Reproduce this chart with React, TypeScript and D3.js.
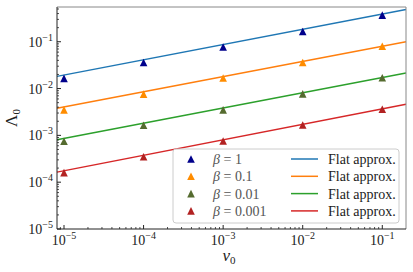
import React from "react";
import * as d3 from "d3";

// data
const v0Points = [1e-5, 1e-4, 1e-3, 1e-2, 1e-1];
const betaLabels = ["1", "0.1", "0.01", "0.001"];
const lambdaBeta1 = [0.0165, 0.036, 0.077, 0.166, 0.37];
const lambdaBeta01 = [0.0035, 0.0076, 0.0168, 0.036, 0.08];
const lambdaBeta001 = [0.00075, 0.00164, 0.0035, 0.0077, 0.017];
const lambdaBeta0001 = [0.00016, 0.00035, 0.00076, 0.00166, 0.0036];
// flat approximation lines, sampled at the plot's left and right edges
const flatV0 = [10 ** -5.088, 10 ** -0.702];
const flatBeta1 = [0.0182, 0.49];
const flatBeta01 = [0.0038, 0.1];
const flatBeta001 = [0.00081, 0.0216];
const flatBeta0001 = [0.000164, 0.0046];
const xTicks = [1e-5, 1e-4, 1e-3, 1e-2, 1e-1];
const yTicks = [1e-5, 1e-4, 1e-3, 1e-2, 1e-1];

const markerColors = ["#00008b", "#ff8c00", "#556b2f", "#b22222"];
const lineColors = ["#1f77b4", "#ff7f0e", "#2ca02c", "#d62728"];

const W = 413;
const H = 272;
const left = 57, right = 406, top = 7, bottom = 229;
const font = "'Liberation Serif', serif";

const series = [lambdaBeta1, lambdaBeta01, lambdaBeta001, lambdaBeta0001];
const flats = [flatBeta1, flatBeta01, flatBeta001, flatBeta0001];

function exp(v: number) {
  return Math.round(Math.log10(v)).toString().replace("-", "\u2212");
}

export default function App() {
  const x = d3.scaleLog().domain([10 ** -5.088, 10 ** -0.702]).range([left, right]);
  const y = d3.scaleLog().domain([1e-5, 10 ** -0.258]).range([bottom, top]);

  const line = d3
    .line<number>()
    .x((_, i) => x(flatV0[i]))
    .y((d) => y(d));

  const tri = (cx: number, cy: number, s = 3.8) =>
    `M${cx},${cy - s}L${cx + s},${cy + s}L${cx - s},${cy + s}Z`;

  // minor ticks
  const xMinor: number[] = [];
  const yMinor: number[] = [];
  for (let e = -6; e <= 0; e++) {
    for (let k = 2; k <= 9; k++) {
      const v = k * 10 ** e;
      if (v > x.domain()[0] && v < x.domain()[1]) xMinor.push(v);
      if (v > y.domain()[0] && v < y.domain()[1]) yMinor.push(v);
    }
  }

  const legendX = 173, legendY = 149, rowH = 17.3;
  const ts = { fontFamily: font };

  return (
    <svg
      width={W}
      height={H}
      style={{ position: "absolute", left: 0, top: 0, background: "#fff", fontFamily: font }}
    >
      {/* curves */}
      {flats.map((f, i) => (
        <path key={"l" + i} d={line(f) || ""} fill="none" stroke={lineColors[i]} strokeWidth={1.5} />
      ))}
      {series.map((s, i) =>
        s.map((v, j) => (
          <path key={`m${i}-${j}`} d={tri(x(v0Points[j]), y(v))} fill={markerColors[i]} />
        ))
      )}

      {/* frame */}
      <line x1={left} x2={right} y1={top} y2={top} stroke="#888" strokeWidth={1} />
      <line x1={right} x2={right} y1={top} y2={bottom} stroke="#888" strokeWidth={1} />
      <line x1={left} x2={left} y1={top} y2={bottom} stroke="#222" strokeWidth={1} />
      <line x1={left} x2={right} y1={bottom} y2={bottom} stroke="#222" strokeWidth={1} />

      {/* x ticks */}
      {xTicks.map((t) => (
        <g key={"xt" + t}>
          <line x1={x(t)} x2={x(t)} y1={bottom} y2={bottom - 4} stroke="#222" />
          <text x={x(t)} y={bottom + 16} textAnchor="middle" style={{ ...ts, fontSize: 14 }} fill="#222">
            10<tspan style={{ fontSize: 10 }} dy={-6}>{exp(t)}</tspan>
          </text>
        </g>
      ))}
      {xMinor.map((t) => (
        <line key={"xm" + t} x1={x(t)} x2={x(t)} y1={bottom} y2={bottom - 2} stroke="#222" strokeWidth={0.8} />
      ))}

      {/* y ticks */}
      {yTicks.map((t) => (
        <g key={"yt" + t}>
          <line x1={left} x2={left + 4} y1={y(t)} y2={y(t)} stroke="#222" />
          <text x={53} y={y(t) + 5} textAnchor="end" style={{ ...ts, fontSize: 14 }} fill="#222">
            10<tspan style={{ fontSize: 10 }} dy={-6}>{exp(t)}</tspan>
          </text>
        </g>
      ))}
      {yMinor.map((t) => (
        <line key={"ym" + t} x1={left} x2={left + 2} y1={y(t)} y2={y(t)} stroke="#222" strokeWidth={0.8} />
      ))}

      {/* axis labels */}
      <text x={229} y={261} textAnchor="middle" style={{ ...ts, fontSize: 17 }} fill="#222">
        <tspan fontStyle="italic">v</tspan>
        <tspan style={{ fontSize: 11 }} dy={3}>0</tspan>
      </text>
      <text transform={`translate(17,118) rotate(-90)`} textAnchor="middle" style={{ ...ts, fontSize: 17 }} fill="#222">
        Λ<tspan style={{ fontSize: 11 }} dy={3}>0</tspan>
      </text>

      {/* legend */}
      <rect
        x={legendX}
        y={legendY}
        width={226}
        height={74}
        rx={3}
        fill="#fff"
        fillOpacity={0.8}
        stroke="#ccc"
        strokeWidth={1}
      />
      {betaLabels.map((b, i) => {
        const cy = legendY + 10 + i * rowH;
        return (
          <g key={"lg" + i}>
            <path d={tri(191, cy)} fill={markerColors[i]} />
            <text x={213} y={cy + 5} style={{ ...ts, fontSize: 14 }} fill="#555">
              <tspan fontStyle="italic">β</tspan> = {b}
            </text>
            <line x1={291} x2={318} y1={cy} y2={cy} stroke={lineColors[i]} strokeWidth={1.5} />
            <text x={328} y={cy + 5} style={{ ...ts, fontSize: 14 }} fill="#222">
              Flat approx.
            </text>
          </g>
        );
      })}
    </svg>
  );
}
